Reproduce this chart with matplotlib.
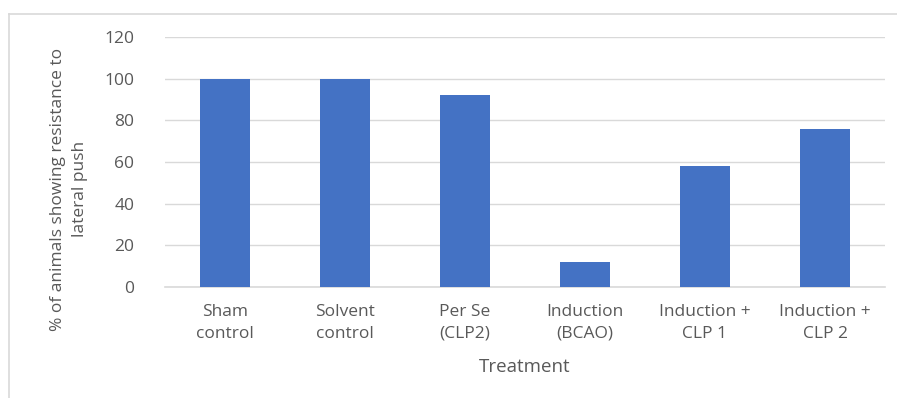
import numpy as np
import matplotlib.pyplot as plt
from matplotlib.lines import Line2D

# data
categories = ["Sham\ncontrol", "Solvent\ncontrol", "Per Se\n(CLP2)", "Induction\n(BCAO)",
              "Induction +\nCLP 1", "Induction +\nCLP 2"]
values = [100, 100, 92, 12, 58, 76]
yticks = [0, 20, 40, 60, 80, 100, 120]

plt.rcParams['font.family'] = ['Open Sans', 'DejaVu Sans']
grey = '#595959'

W, H = 897, 398
fig = plt.figure(figsize=(W / 100, H / 100), dpi=100)
ax = fig.add_axes([165 / W, 1 - 287 / H, 720 / W, 250 / H])

x = np.arange(len(values))
ax.bar(x, values, width=0.41, color='#4472C4', zorder=3)

ax.set_xlim(-0.5, len(values) - 0.5)
ax.set_ylim(0, 120)
ax.set_yticks(yticks)
ax.set_xticks(x)
ax.set_xticklabels(categories, fontsize=12.5, color=grey, linespacing=1.5)
ax.tick_params(axis='y', labelsize=12.5, labelcolor=grey, length=0, pad=22)
ax.tick_params(axis='x', length=0, pad=12)
ax.grid(axis='y', color='#d9d9d9', linewidth=1, zorder=0)

for s in ['top', 'right', 'left']:
    ax.spines[s].set_visible(False)
ax.spines['bottom'].set_color('#d9d9d9')
ax.spines['bottom'].set_linewidth(1.2)

ax.set_xlabel("Treatment", fontsize=13.5, color=grey, labelpad=12)
# y title as figure text so both lines stay centred
fig.text(69 / W, 1 - 189 / H, "% of animals showing resistance to\nlateral push",
         rotation=90, ha='center', va='center', multialignment='center',
         fontsize=12.5, color=grey, linespacing=1.5)

# outer chart frame (top and left edges visible)
fig.add_artist(Line2D([9 / W, 9 / W], [0, 1 - 14 / H], transform=fig.transFigure,
                      color='#d9d9d9', linewidth=1.2))
fig.add_artist(Line2D([9 / W, 1], [1 - 14 / H, 1 - 14 / H], transform=fig.transFigure,
                      color='#d9d9d9', linewidth=1.2))

fig.savefig("out.png", dpi=100)
